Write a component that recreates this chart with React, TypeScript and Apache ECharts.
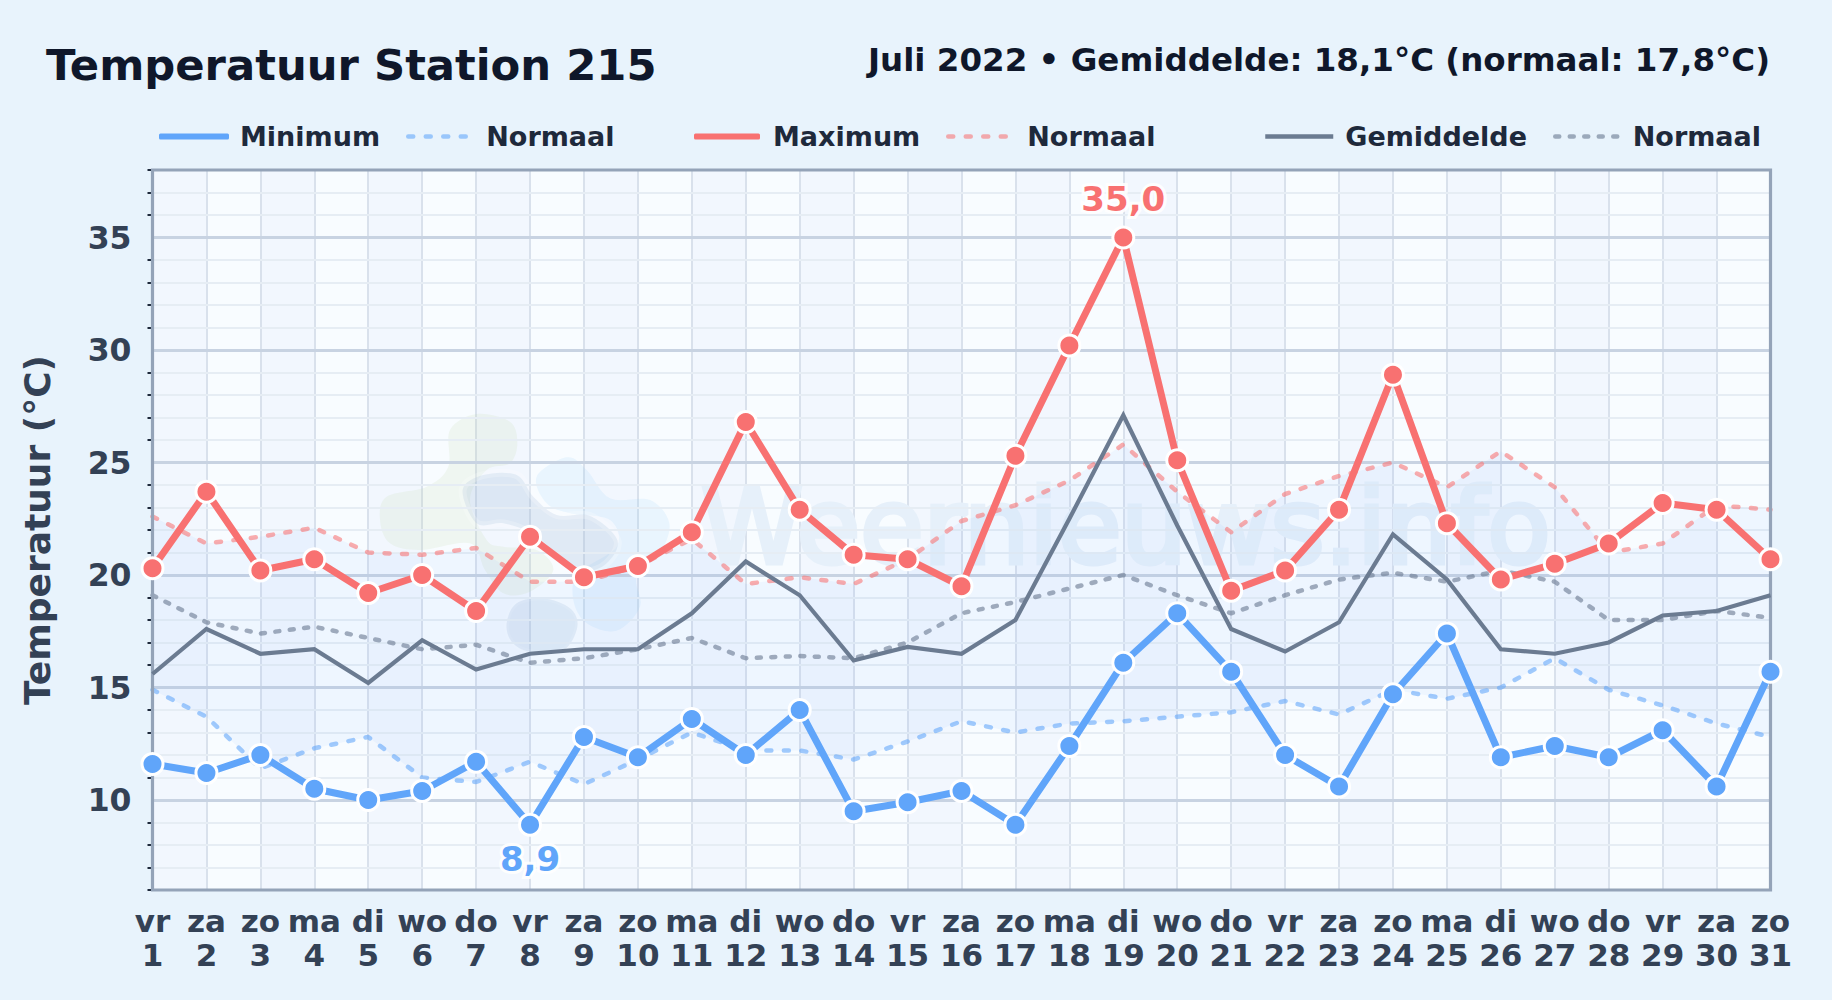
import React, { useEffect, useRef } from "react";
import * as echarts from "echarts";

const weekdays = ["vr","za","zo","ma","di","wo","do","vr","za","zo","ma","di","wo","do","vr","za","zo","ma","di","wo","do","vr","za","zo","ma","di","wo","do","vr","za","zo"];
const days = Array.from({ length: 31 }, (_, i) => String(i + 1));
const categories = weekdays.map((d, i) => d + "\n" + days[i]);

const maxTemp = [20.3,23.7,20.2,20.7,19.2,20.0,18.4,21.7,19.9,20.4,21.9,26.8,22.9,20.9,20.7,19.5,25.3,30.2,35.0,25.1,19.3,20.2,22.9,28.9,22.3,19.8,20.5,21.4,23.2,22.9,20.7];
const minTemp = [11.6,11.2,12.0,10.5,10.0,10.4,11.7,8.9,12.8,11.9,13.6,12.0,14.0,9.5,9.9,10.4,8.9,12.4,16.1,18.3,15.7,12.0,10.6,14.7,17.4,11.9,12.4,11.9,13.1,10.6,15.7];
const avgTemp = [15.6,17.6,16.5,16.7,15.2,17.1,15.8,16.5,16.7,16.7,18.3,20.6,19.1,16.2,16.8,16.5,18.0,22.5,27.1,22.2,17.6,16.6,17.9,21.8,19.8,16.7,16.5,17.0,18.2,18.4,19.1];
const normalMax = [22.6,21.4,21.7,22.1,21.0,20.9,21.2,19.7,19.7,20.4,21.6,19.6,19.9,19.6,20.7,22.4,23.1,24.2,25.8,23.7,21.9,23.6,24.4,25.0,23.9,25.5,23.9,21.0,21.4,23.1,22.9];
const normalAvg = [19.1,17.9,17.4,17.7,17.2,16.7,16.9,16.1,16.3,16.7,17.2,16.3,16.4,16.3,17.0,18.3,18.8,19.4,20.0,19.1,18.3,19.1,19.8,20.1,19.7,20.2,19.7,18.0,18.0,18.4,18.1];
const normalMin = [14.9,13.7,11.4,12.3,12.8,11.0,10.8,11.7,10.7,11.8,13.0,12.2,12.2,11.8,12.6,13.5,13.0,13.4,13.5,13.7,13.9,14.4,13.8,14.9,14.5,15.0,16.3,14.9,14.2,13.4,12.8];

const FONT = "DejaVu Sans";
const Y_MIN = 6;
const Y_MAX = 38;
const majorTicks = [10, 15, 20, 25, 30, 35];
const minorTicks: number[] = [];
for (let v = Y_MIN; v <= Y_MAX; v++) if (!majorTicks.includes(v)) minorTicks.push(v);

const PLOT = { left: 152.5, top: 170, right: 1770.5, bottom: 890 };
const C = { min: "#60a5fa", max: "#f87171", avg: "#6b7b91" };

// Smooth closed outline through points given in a zoomed crop of the watermark.
function blob(points: number[][]): string {
  const p = points.map(([x, y]) => [370 + x / 3, 400 + y / 3]);
  const n = p.length;
  let d = `M${p[0][0]} ${p[0][1]}`;
  for (let i = 0; i < n; i++) {
    const a = p[(i - 1 + n) % n], b = p[i], c = p[(i + 1) % n], e = p[(i + 2) % n];
    d += `C${b[0] + (c[0] - a[0]) / 6} ${b[1] + (c[1] - a[1]) / 6} ${c[0] - (e[0] - b[0]) / 6} ${c[1] - (e[1] - b[1]) / 6} ${c[0]} ${c[1]}`;
  }
  return d + "Z";
}
const shapes: Record<string, number[][]> = {
  wmGreen: [[240,90],[320,42],[420,65],[442,130],[420,190],[350,210],[300,300],[350,420],[400,440],[500,450],[550,510],[480,575],[400,580],[345,510],[300,430],[150,450],[60,430],[30,360],[50,290],[170,260],[235,200]],
  wmBlue: [[500,230],[590,172],[650,210],[720,295],[840,300],[898,370],[870,460],[800,530],[810,620],[740,692],[650,670],[610,600],[625,520],[740,440],[720,360],[600,340],[530,310]],
  wmSlate: [[278,270],[340,225],[440,225],[490,290],[560,345],[660,348],[742,420],[710,490],[640,515],[560,480],[480,400],[400,370],[320,370]],
  wmSlate2: [[410,670],[440,610],[520,595],[600,625],[622,680],[580,750],[480,755],[425,725]],
};
Object.keys(shapes).forEach((k) => {
  echarts.graphic.registerShape(k, echarts.graphic.extendPath(blob(shapes[k]), {}) as any);
});

const dotSeries = (name: string, data: number[], color: string, labelIndex: number, text: string, pos: string, dist: number) => ({
  name,
  type: "line",
  z: 5,
  data: data.map((v, i) =>
    i === labelIndex
      ? {
          value: v,
          label: {
            show: true,
            position: pos,
            distance: dist,
            formatter: text,
            color,
            fontFamily: FONT,
            fontWeight: "bold",
            fontSize: 34,
            textBorderColor: "rgba(255,255,255,0.9)",
            textBorderWidth: 6,
          },
        }
      : v
  ),
  symbol: "circle",
  symbolSize: 21,
  lineStyle: { color, width: 7, cap: "round", join: "round" },
  itemStyle: { color, borderColor: "#ffffff", borderWidth: 3 },
});

const dashSeries = (name: string, data: number[], color: string, dash: number[]) => ({
  name,
  type: "line",
  z: 3,
  data,
  symbol: "none",
  lineStyle: { color, width: 4.5, type: dash, cap: "round" },
  itemStyle: { color },
});

const legendItem = (name: string, left: number, iconW: number, gap: number, pill: boolean, text: string, lineW: number) => ({
  show: true,
  left,
  top: 123,
  padding: 0,
  itemWidth: iconW,
  itemHeight: pill ? 6 : 1,
  selectedMode: false,
  data: [pill ? { name, icon: "roundRect" } : { name }],
  itemStyle: { borderWidth: 0 },
  lineStyle: { width: lineW },
  formatter: () => text,
  textStyle: { fontFamily: FONT, fontWeight: "bold", fontSize: 27, color: "#1e293b", padding: [0, 0, 0, gap - 5] },
});

export default function App() {
  const ref = useRef<HTMLDivElement>(null);
  useEffect(() => {
    const chart = echarts.init(ref.current!, undefined, { renderer: "svg" });
    const option: any = {
      animation: false,
      backgroundColor: "#e8f3fc",
      title: [
        { text: "Temperatuur Station 215", left: 46, top: 43, padding: 0, textStyle: { fontFamily: FONT, fontWeight: "bold", fontSize: 43.3, color: "#0f172a" } },
        { text: "Juli 2022 • Gemiddelde: 18,1°C (normaal: 17,8°C)", right: 62, top: 43, padding: 0, textStyle: { fontFamily: FONT, fontWeight: "bold", fontSize: 32.5, color: "#0f172a" } },
      ],
      legend: [
        legendItem("Minimum", 159, 70, 11, true, "Minimum", 6),
        legendItem("Normaal min", 406, 60, 18, false, "Normaal", 4.5),
        legendItem("Maximum", 694, 66, 13, true, "Maximum", 6),
        legendItem("Normaal max", 946, 62, 17, false, "Normaal", 4.5),
        legendItem("Gemiddelde", 1263, 68, 12, false, "Gemiddelde", 4.5),
        legendItem("Normaal gem", 1553, 65, 12.5, false, "Normaal", 4.5),
      ],
      grid: { left: PLOT.left, top: PLOT.top, width: PLOT.right - PLOT.left, height: PLOT.bottom - PLOT.top, containLabel: false, outerBoundsMode: "none" },
      xAxis: {
        type: "category",
        z: -1,
        data: categories,
        boundaryGap: false,
        axisLine: { show: false },
        axisTick: { show: false },
        axisLabel: { interval: 0, margin: 14, lineHeight: 34, fontFamily: FONT, fontWeight: "bold", fontSize: 31, color: "#334155" },
        splitLine: { show: true, interval: 0, lineStyle: { color: "#d9e1ec", width: 2 } },
        splitArea: { show: true, interval: 0, areaStyle: { color: ["#f2f7fe", "#f8fcff"] } },
      },
      yAxis: [
        {
          type: "value",
          position: "left",
          z: 1,
          min: Y_MIN,
          max: Y_MAX,
          name: "Temperatuur (°C)",
          nameLocation: "middle",
          nameGap: 97,
          nameTextStyle: { fontFamily: FONT, fontWeight: "bold", fontSize: 36, color: "#334155" },
          axisLine: { show: false },
          axisTick: { show: true, customValues: minorTicks, length: 5, lineStyle: { color: "#1e293b", width: 2 } },
          axisLabel: { show: false },
          splitLine: { show: true, lineStyle: { color: "#e6edf4", width: 2 } },
        },
        {
          type: "value",
          position: "left",
          z: 1,
          min: Y_MIN,
          max: Y_MAX,
          axisLine: { show: false },
          axisTick: { show: false, customValues: majorTicks },
          axisLabel: { show: true, customValues: majorTicks, margin: 21, fontFamily: FONT, fontWeight: "bold", fontSize: 31.5, color: "#334155" },
          splitLine: { show: true, lineStyle: { color: "#c8d3e2", width: 3 } },
        },
      ],
      graphic: [
        { type: "wmGreen", z: 0, silent: true, style: { fill: "rgba(190,220,170,0.16)" } },
        { type: "wmBlue", z: 0, silent: true, style: { fill: "rgba(147,210,250,0.15)" } },
        { type: "wmSlate", z: 0, silent: true, style: { fill: "rgba(150,180,215,0.24)", stroke: "rgba(255,255,255,0.22)", lineWidth: 8 } },
        { type: "wmSlate2", z: 0, silent: true, style: { fill: "rgba(150,180,215,0.22)", stroke: "rgba(255,255,255,0.12)", lineWidth: 5 } },
        { type: "text", z: 0, silent: true, x: 701, y: 527, style: { text: "Weernieuws.info", fontFamily: FONT, fontSize: 103, fontWeight: "normal", fill: "#e6f0fa", stroke: "#e6f0fa", lineWidth: 5, verticalAlign: "middle", align: "left" } },
        {
          type: "rect",
          z: 4,
          silent: true,
          shape: { x: PLOT.left, y: PLOT.top, width: PLOT.right - PLOT.left, height: PLOT.bottom - PLOT.top },
          style: { fill: "none", stroke: "#94a3b8", lineWidth: 3.2 },
        },
      ],
      series: [
        { name: "bandBase", type: "line", stack: "band", z: 2, data: normalMin, symbol: "none", lineStyle: { width: 0 }, silent: true },
        { name: "band", type: "line", stack: "band", z: 2, data: normalMax.map((v, i) => +(v - normalMin[i]).toFixed(1)), symbol: "none", lineStyle: { width: 0 }, areaStyle: { color: "rgba(96,165,250,0.09)" }, silent: true },
        dashSeries("Normaal min", normalMin, "rgba(96,165,250,0.58)", [5, 12.5]),
        dashSeries("Normaal max", normalMax, "rgba(248,113,113,0.58)", [5, 12.5]),
        dashSeries("Normaal gem", normalAvg, "rgba(100,116,139,0.58)", [4, 10.5]),
        { name: "Gemiddelde", type: "line", z: 4, data: avgTemp, symbol: "none", lineStyle: { color: C.avg, width: 4.2, join: "miter" }, itemStyle: { color: C.avg } },
        dotSeries("Minimum", minTemp, C.min, 7, "8,9", "bottom", 5),
        dotSeries("Maximum", maxTemp, C.max, 18, "35,0", "top", 10),
      ],
    };
    chart.setOption(option);
    return () => chart.dispose();
  }, []);
  return <div ref={ref} style={{ position: "fixed", left: 0, top: 0, width: 1832, height: 1000 }} />;
}
